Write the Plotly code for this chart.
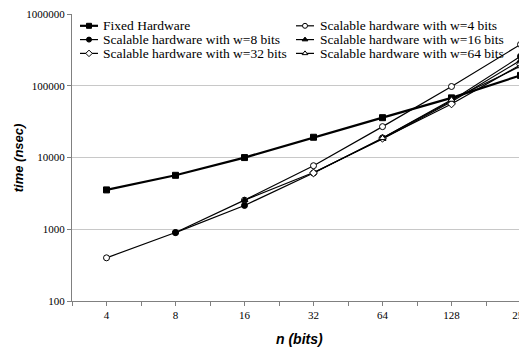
import plotly.graph_objects as go

n_bits = ["4", "8", "16", "32", "64", "128", "256"]

fixed_hw = [3540, 5660, 10000, 19200, 36000, 68000, 140000]
w4 = [400, 900, 2550, 7700, 27000, 98000, 378000]
w8 = [None, 900, 2150, 6100, 18800, 62000, 258000]
w16 = [None, None, 2550, 6200, 18200, 60000, 227000]
w32 = [None, None, None, 6100, 18600, 56000, 197000]
w64 = [None, None, None, None, 18700, 64000, 188000]

series_names = [
    "Fixed Hardware",
    "Scalable hardware with w=4 bits",
    "Scalable hardware with w=8 bits",
    "Scalable hardware with w=16 bits",
    "Scalable hardware with w=32 bits",
    "Scalable hardware with w=64 bits",
]
series_values = [fixed_hw, w4, w8, w16, w32, w64]
series_symbols = ["square", "circle-open", "circle", "triangle-up", "diamond-open", "triangle-up-open"]
series_widths = [2.2, 1.2, 1.2, 1.2, 1.2, 1.2]

SERIF = "Liberation Serif, Times New Roman, Times, serif"
SANS = "Liberation Sans, Arial, sans-serif"

# geometry (figure is drawn with an 8px page offset)
W, H = 527, 349
ML, MR, MT, MB = 64, 0, 1.5, 56
PW = W - ML - MR
PH = H - MT - MB
OFF = 8


def px_to_paper_x(px):
    return (px - OFF - ML) / PW


def px_to_paper_y(py):
    return (H - MB + OFF - py) / PH


xpos = list(range(len(n_bits)))


def marker_for(sym, size=6):
    is_open = sym.endswith("open")
    return dict(symbol=sym.replace("-open", "") if is_open else sym,
                size=size, color="white" if is_open else "black",
                line=dict(color="black", width=1))


fig = go.Figure()
for name, vals, sym, lw in zip(series_names, series_values, series_symbols, series_widths):
    fig.add_trace(go.Scatter(
        x=xpos, y=vals, name=name, mode="lines+markers",
        line=dict(color="black", width=lw),
        marker=marker_for(sym),
        connectgaps=False, showlegend=False,
    ))

# legend keys (2 columns x 3 rows), drawn on an overlay axis in paper units
leg_col_line = [(80, 98), (296, 314)]
leg_col_text = [101, 318]
leg_row_y = [21.5, 35.5, 49.5]
for i, (name, sym, lw) in enumerate(zip(series_names, series_symbols, series_widths)):
    r, c = divmod(i, 2)
    x0, x1 = leg_col_line[c]
    yy = px_to_paper_y(leg_row_y[r])
    fig.add_trace(go.Scatter(
        x=[px_to_paper_x(x0), px_to_paper_x(x1)], y=[yy, yy], mode="lines",
        line=dict(color="black", width=lw), xaxis="x2", yaxis="y2",
        showlegend=False, hoverinfo="skip"))
    fig.add_trace(go.Scatter(
        x=[px_to_paper_x((x0 + x1) / 2)], y=[yy], mode="markers",
        marker=marker_for(sym, 5), xaxis="x2", yaxis="y2",
        showlegend=False, hoverinfo="skip"))
    fig.add_annotation(text=name, xref="paper", yref="paper",
                       x=px_to_paper_x(leg_col_text[c]), y=yy,
                       xanchor="left", yanchor="middle", showarrow=False,
                       font=dict(family=SERIF, size=13.5, color="black"))

fig.update_layout(
    width=W, height=H,
    margin=dict(l=ML, r=MR, t=MT, b=MB),
    paper_bgcolor="white", plot_bgcolor="white",
    font=dict(family=SERIF, size=12, color="black"),
    showlegend=False,
    xaxis=dict(
        range=[-0.5, -0.5 + PW / 69.0], tickvals=xpos, ticktext=n_bits,
        showgrid=False, zeroline=False,
        showline=True, linecolor="#808080", linewidth=1,
        ticks="outside", ticklen=4, tickcolor="#808080",
        minor=dict(ticks="outside", tickvals=[i + 0.5 for i in range(-1, 7)],
                   ticklen=4, tickcolor="#808080"),
        tickfont=dict(family=SERIF, size=11),
        ticklabeloverflow="allow",
    ),
    yaxis=dict(
        type="log", range=[2, 6.002],
        tickvals=[100, 1000, 10000, 100000, 1000000],
        ticktext=["100", "1000", "10000", "100000", "1000000"],
        showgrid=True, gridcolor="#c8c8c8", gridwidth=1,
        zeroline=False, showline=True, linecolor="#808080", linewidth=1,
        ticks="outside", ticklen=4, tickcolor="#808080",
        tickfont=dict(family=SERIF, size=11),
        ticklabeloverflow="allow",
    ),
    xaxis2=dict(overlaying="x", range=[0, 1], visible=False, anchor="y2", fixedrange=True),
    yaxis2=dict(overlaying="y", range=[0, 1], visible=False, anchor="x2", fixedrange=True),
)

fig.add_annotation(text="<b><i>time (nsec)</i></b>", xref="paper", yref="paper",
                   x=px_to_paper_x(18), y=px_to_paper_y(156), xanchor="center",
                   yanchor="middle", textangle=-90,
                   showarrow=False, font=dict(family=SANS, size=13))
fig.add_annotation(text="<b><i>n (bits)</i></b>", xref="paper", yref="paper",
                   x=px_to_paper_x(299), y=px_to_paper_y(340), xanchor="center",
                   yanchor="middle",
                   showarrow=False, font=dict(family=SANS, size=14))

fig.write_html("out.html")
